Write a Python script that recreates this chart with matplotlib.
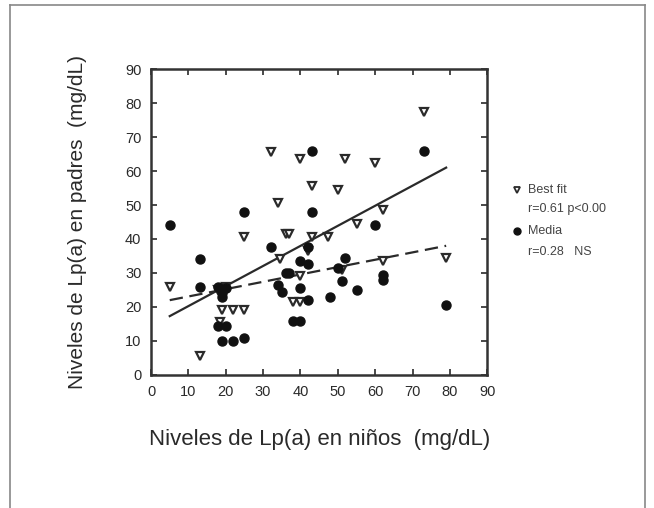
import matplotlib
matplotlib.use('Agg')
import matplotlib.pyplot as plt
from matplotlib.lines import Line2D

plt.rcParams['font.family'] = ['Liberation Sans', 'DejaVu Sans']

# Best fit (triangles)
best_x = [5, 13, 19, 22, 25, 25, 32, 34, 36, 37, 40, 43, 43, 47.5, 50, 52, 55, 60,
          62, 62, 73, 79, 34.5, 40, 38, 40, 51, 18, 20, 19, 18.5, 42]
best_y = [26, 5.5, 19, 19, 19, 40.5, 65.5, 50.5, 41.5, 41.5, 63.5, 55.5, 40.5, 40.5, 54.5,
          63.5, 44.5, 62.5, 48.5, 33.5, 77.5, 34.5, 34, 29, 21.5, 21.5, 31, 25, 26, 23, 15.5, 36.5]

# Media (filled circles)
media_x = [5, 13, 13, 18, 19, 20, 19, 18, 20, 19, 22, 25, 25, 32, 34, 35, 36, 37, 40, 42,
           42, 40, 42, 38, 40, 43, 43, 48, 50, 51, 52, 55, 60, 62, 62, 73, 79]
media_y = [44, 34, 26, 26, 24, 25.5, 23, 14.5, 14.5, 10, 10, 11, 48, 37.5, 26.5, 24.5, 30, 30,
           33.5, 32.5, 37.5, 25.5, 22, 16, 16, 66, 48, 23, 31.5, 27.5, 34.5, 25, 44, 29.5, 28,
           66, 20.5]

# regression lines (end points)
fit_x = [5, 79]
best_fit_y = [17.3, 61.0]
media_fit_y = [22.0, 38.0]

ticks = list(range(0, 100, 10))
ink = '#2a2a2a'

fig = plt.figure(figsize=(6.54, 5.08), dpi=100)
ax = fig.add_axes([0.231, 0.262, 0.514, 0.602])

ax.plot(fit_x, best_fit_y, color=ink, linewidth=1.6)
ax.plot(fit_x, media_fit_y, color=ink, linewidth=1.6, dashes=(6, 3))

ax.plot(best_x, best_y, linestyle='none', marker='v', markersize=6,
        markerfacecolor='white', markeredgecolor=ink, markeredgewidth=1.6, label='Best fit')
ax.plot(media_x, media_y, linestyle='none', marker='o', markersize=6.5,
        color='#111111', label='Media')

ax.set_xlim(0, 90)
ax.set_ylim(0, 90)
ax.set_xticks(ticks)
ax.set_yticks(ticks)
ax.tick_params(direction='in', top=True, right=True, length=4, width=1.2,
               labelsize=10.5, colors=ink, pad=7)
for s in ax.spines.values():
    s.set_linewidth(1.8)
    s.set_color('#333333')

ax.set_xlabel('Niveles de Lp(a) en niños  (mg/dL)', fontsize=16, color=ink, labelpad=22)
ax.set_ylabel('Niveles de Lp(a) en padres  (mg/dL)', fontsize=15, color=ink, labelpad=27)

# legend drawn as text beside the plot
lg = '#444444'
fig.add_artist(Line2D([0.791], [0.626], marker='v', markersize=5, linestyle='none',
                      markerfacecolor='white', markeredgecolor=ink, markeredgewidth=1.3,
                      transform=fig.transFigure))
fig.text(0.807, 0.626, 'Best fit', fontsize=9, color=lg, va='center')
fig.text(0.807, 0.588, 'r=0.61 p<0.00', fontsize=9, color=lg, va='center')
fig.add_artist(Line2D([0.791], [0.545], marker='o', markersize=5, linestyle='none',
                      color='#111111', transform=fig.transFigure))
fig.text(0.807, 0.545, 'Media', fontsize=9, color=lg, va='center')
fig.text(0.807, 0.504, 'r=0.28   NS', fontsize=9, color=lg, va='center')

# page frame (open at the bottom)
frame = '#888888'
fig.add_artist(Line2D([0.015, 0.986], [0.99, 0.99], color=frame, linewidth=1.2))
fig.add_artist(Line2D([0.015, 0.015], [0.0, 0.99], color=frame, linewidth=1.2))
fig.add_artist(Line2D([0.986, 0.986], [0.0, 0.99], color=frame, linewidth=1.2))

plt.savefig('out.png', dpi=100)
plt.close()
